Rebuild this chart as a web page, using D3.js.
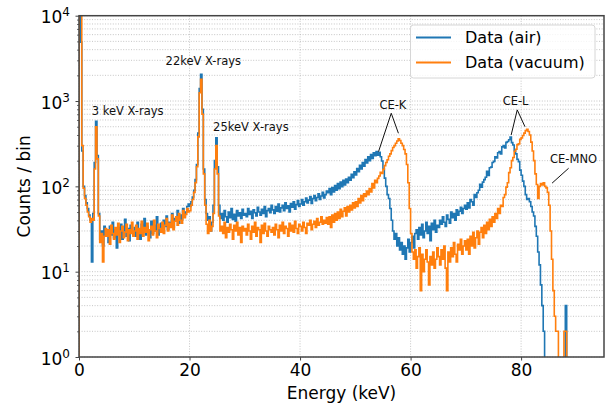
<!DOCTYPE html>
<html>
<head>
<meta charset="utf-8">
<script src="https://cdn.jsdelivr.net/npm/d3@7"></script>
<style>
  body { margin: 0; background: #fff; }
  svg { display: block; font-family: "DejaVu Sans", sans-serif; }
</style>
</head>
<body>
<svg width="605" height="404"></svg>
<script>
// histogram bins: 0.25 keV wide, starting at 0 keV
const binStart = 0;
const binWidth = 0.25;

const airCounts = [
    20000, 4900, 260, 100, 78, 64, 55, 46, 40, 13, 48, 190, 580, 230, 48, 24, 30, 20, 34, 26,
    29, 22, 34, 27, 38, 25, 31, 19, 33, 28, 36, 24, 30, 41, 26, 32, 23, 35, 29, 27,
    33, 26, 38, 30, 24, 36, 29, 42, 27, 34, 31, 25, 39, 28, 35, 30, 44, 27, 33, 37,
    29, 40, 34, 45, 31, 38, 36, 48, 33, 42, 39, 52, 37, 46, 41, 55, 44, 50, 58, 62,
    58, 66, 75, 90, 120, 180, 420, 1400, 2060, 800, 160, 70, 48, 40, 44, 30, 38, 60, 200, 370,
    170, 60, 42, 48, 40, 52, 44, 38, 50, 43, 55, 41, 47, 39, 52, 45, 49, 42, 54, 46,
    48, 44, 55, 47, 51, 42, 53, 49, 45, 57, 50, 46, 54, 48, 58, 44, 52, 55, 49, 60,
    53, 48, 58, 51, 62, 50, 56, 60, 52, 64, 55, 59, 50, 63, 57, 66, 54, 61, 68, 58,
    62, 70, 60, 66, 73, 64, 69, 76, 63, 72, 78, 68, 74, 82, 70, 77, 85, 73, 80, 88,
    84, 94, 80, 97, 86, 102, 90, 108, 94, 112, 99, 118, 104, 122, 110, 128, 118, 138, 126, 148,
    136, 162, 148, 176, 160, 190, 172, 206, 188, 222, 200, 236, 212, 248, 228, 256, 232, 250, 222, 198,
    160, 125, 100, 80, 72, 55, 40, 30, 24, 28, 20, 25, 18, 22, 16, 20, 14, 19, 24, 17,
    22, 26, 19, 28, 31, 24, 33, 27, 36, 25, 30, 38, 28, 34, 23, 37, 31, 40, 29, 35,
    33, 40, 36, 44, 38, 34, 46, 41, 37, 50, 43, 48, 40, 53, 46, 51, 57, 48, 55, 60,
    54, 64, 56, 70, 66, 60, 80, 74, 84, 90, 106, 98, 112, 120, 128, 150, 134, 165, 168, 190,
    196, 222, 215, 248, 256, 240, 290, 300, 282, 328, 336, 352, 378, 325, 305, 262, 240, 208, 195, 155,
    135, 115, 100, 80, 70, 72, 66, 58, 50, 45, 34, 26, 17, 12, 7, 4, 2, 0, 0, 0,
    0, 0, 0, 0, 0, 0, 0, 0, 0, 0, 0, 0, 4, 0, 0, 0, 0, 0, 0, 0,
    0, 0, 0, 0, 0, 0, 0, 0, 0, 0, 0, 0, 0, 0, 0, 0, 0, 0, 0, 0
];

const vacuumCounts = [
    20000, 14000, 300, 95, 72, 60, 50, 44, 38, 42, 40, 160, 500, 210, 45, 22, 28, 13, 26, 32,
    26, 31, 21, 35, 28, 24, 33, 27, 37, 22, 30, 34, 25, 29, 36, 23, 31, 28, 38, 26,
    30, 35, 24, 32, 28, 39, 26, 33, 29, 37, 23, 31, 34, 27, 40, 30, 25, 36, 32, 29,
    38, 28, 35, 42, 30, 37, 33, 46, 31, 39, 44, 35, 48, 40, 37, 52, 43, 47, 55, 50,
    52, 60, 70, 85, 110, 170, 380, 1250, 1800, 700, 140, 60, 36, 28, 40, 30, 34, 48, 160, 300,
    140, 45, 30, 34, 28, 38, 25, 33, 29, 36, 31, 24, 35, 30, 38, 27, 33, 22, 34, 30,
    32, 27, 36, 30, 24, 34, 29, 38, 26, 33, 31, 22, 35, 28, 37, 30, 26, 34, 31, 29,
    33, 27, 36, 31, 25, 35, 30, 38, 28, 34, 32, 26, 37, 30, 35, 29, 39, 32, 28, 36,
    34, 30, 38, 33, 28, 37, 35, 40, 31, 36, 39, 33, 42, 35, 38, 44, 36, 40, 37, 43,
    36, 44, 33, 46, 38, 48, 40, 50, 42, 54, 44, 51, 56, 45, 58, 50, 60, 53, 64, 56,
    66, 58, 72, 64, 78, 68, 82, 76, 88, 80, 94, 86, 108, 96, 118, 110, 124, 132, 146, 142,
    158, 175, 190, 205, 225, 240, 262, 285, 300, 320, 340, 360, 345, 320, 300, 270, 240, 180, 110, 55,
    28, 17, 14, 18, 11, 15, 19, 6, 16, 10, 14, 18, 13, 7, 15, 12, 17, 11, 14, 19,
    15, 12, 18, 14, 20, 11, 6, 17, 13, 19, 15, 22, 16, 13, 21, 18, 24, 16, 20, 23,
    18, 24, 16, 26, 20, 29, 19, 25, 30, 21, 29, 33, 25, 35, 28, 38, 31, 41, 34, 44,
    38, 48, 42, 55, 48, 60, 58, 74, 80, 98, 110, 145, 165, 200, 218, 258, 272, 308, 315, 355,
    370, 395, 420, 450, 465, 440, 400, 330, 260, 200, 140, 105, 72, 100, 108, 104, 110, 100, 96, 85,
    60, 30, 14, 6, 3, 2, 2, 0, 0, 0, 0, 2, 2, 0, 0, 0, 0, 0, 0, 0,
    0, 0, 0, 0, 0, 0, 0, 0, 0, 0, 0, 0, 0, 0, 0, 0, 0, 0, 0, 0
];

const seriesNames = ['Data (air)', 'Data (vacuum)'];
const seriesColors = ['#1f77b4', '#ff7f0e'];
const xTicks = [0, 20, 40, 60, 80];
const yDecades = [0, 1, 2, 3, 4];

// annotation text (centre, keV / counts) and the pointer lines (keV / counts)
const noteLabels = ['3 keV X-rays', '22keV X-rays', '25keV X-rays', 'CE-K', 'CE-L', 'CE-MNO'];
const noteX = [8.8, 22.5, 31.1, 56.8, 79.0, 89.5];
const noteY = [765, 2950, 500, 900, 1000, 210];
const pointers = [
    [56.5, 719, 54.2, 255],
    [56.5, 719, 57.8, 419],
    [79.3, 787, 78.2, 400],
    [79.3, 787, 80.7, 500],
    [88.6, 163, 85.6, 109]
];

init();

function init() {
    var svg = d3.select('svg');
    var left = 79, right = 604, top = 15.7, bottom = 357;

    var x = d3.scaleLinear().domain([0, 95]).range([left, right]);
    var y = d3.scaleLog().domain([1, 10000]).range([bottom, top]);

    var minorTicks = [];
    yDecades.slice(0, -1).forEach(p => {
        d3.range(2, 10).forEach(m => minorTicks.push(m * Math.pow(10, p)));
    });

    svg.append('defs').append('clipPath').attr('id', 'plot-clip')
        .append('rect')
        .attr('x', left).attr('y', top)
        .attr('width', right - left).attr('height', bottom - top);

    // grid
    var gGrid = svg.append('g')
        .attr('stroke', '#b8b8b8')
        .attr('stroke-width', 0.8)
        .attr('stroke-dasharray', '1,1.6');

    minorTicks.concat(yDecades.map(p => Math.pow(10, p))).forEach(v => {
        gGrid.append('line')
            .attr('x1', left).attr('x2', right)
            .attr('y1', y(v)).attr('y2', y(v));
    });
    xTicks.forEach(v => {
        gGrid.append('line')
            .attr('x1', x(v)).attr('x2', x(v))
            .attr('y1', top).attr('y2', bottom);
    });

    // histograms
    var line = d3.line()
        .curve(d3.curveStepAfter)
        .x(d => x(d[0]))
        .y(d => y(Math.max(d[1], 0.001)));

    var gData = svg.append('g').attr('clip-path', 'url(#plot-clip)');
    [airCounts, vacuumCounts].forEach((counts, idx) => {
        var pts = counts.map((c, i) => [binStart + i * binWidth, c]);
        pts.unshift([binStart, 0]);
        pts.push([binStart + counts.length * binWidth, counts[counts.length - 1]]);
        gData.append('path')
            .datum(pts)
            .attr('fill', 'none')
            .attr('stroke', seriesColors[idx])
            .attr('stroke-width', 1.6)
            .attr('stroke-linejoin', 'miter')
            .attr('d', line);
    });

    // axes
    var xAxis = d3.axisBottom(x).tickValues(xTicks).tickSize(3.5).tickPadding(3.5);
    var gx = svg.append('g').attr('transform', 'translate(0,' + bottom + ')').call(xAxis);
    gx.select('.domain').remove();
    gx.selectAll('.tick line').attr('stroke', '#444').attr('stroke-width', 1);
    gx.selectAll('.tick text')
        .attr('font-size', 17)
        .attr('font-family', 'DejaVu Sans')
        .attr('fill', '#000');

    var gy = svg.append('g').attr('transform', 'translate(' + left + ',0)')
        .call(d3.axisLeft(y).tickValues(yDecades.map(p => Math.pow(10, p))).tickSize(3.5).tickFormat(''));
    gy.select('.domain').remove();
    gy.selectAll('.tick line').attr('stroke', '#444').attr('stroke-width', 1);

    var gyMinor = svg.append('g').attr('transform', 'translate(' + left + ',0)')
        .call(d3.axisLeft(y).tickValues(minorTicks).tickSize(2).tickFormat(''));
    gyMinor.select('.domain').remove();
    gyMinor.selectAll('.tick line').attr('stroke', '#444').attr('stroke-width', 0.8);

    yDecades.forEach(p => {
        var t = svg.append('text')
            .attr('x', 70)
            .attr('y', y(Math.pow(10, p)) + 7.5)
            .attr('text-anchor', 'end')
            .attr('font-size', 17);
        t.append('tspan').text('10');
        t.append('tspan').attr('dy', -7).attr('font-size', 12).text(p);
    });

    svg.append('rect')
        .attr('x', left).attr('y', top)
        .attr('width', right - left).attr('height', bottom - top)
        .attr('fill', 'none')
        .attr('stroke', '#444')
        .attr('stroke-width', 1.5);

    svg.append('text')
        .attr('x', (left + right) / 2)
        .attr('y', 399)
        .attr('text-anchor', 'middle')
        .attr('font-size', 17)
        .text('Energy (keV)');

    svg.append('text')
        .attr('transform', 'translate(30,' + ((top + bottom) / 2) + ') rotate(-90)')
        .attr('text-anchor', 'middle')
        .attr('font-size', 17)
        .text('Counts / bin');

    // annotations
    noteLabels.forEach((txt, i) => {
        svg.append('text')
            .attr('x', x(noteX[i]))
            .attr('y', y(noteY[i]))
            .attr('dy', '0.35em')
            .attr('text-anchor', 'middle')
            .attr('font-size', 11.5)
            .attr('fill', '#111')
            .text(txt);
    });
    pointers.forEach(p => {
        svg.append('line')
            .attr('x1', x(p[0])).attr('y1', y(p[1]))
            .attr('x2', x(p[2])).attr('y2', y(p[3]))
            .attr('stroke', '#111')
            .attr('stroke-width', 1);
    });

    // legend
    var gLeg = svg.append('g');
    gLeg.append('rect')
        .attr('x', 410.5).attr('y', 25)
        .attr('width', 184.5).attr('height', 53)
        .attr('rx', 3)
        .attr('fill', '#fff')
        .attr('fill-opacity', 0.8)
        .attr('stroke', '#d6d6d6')
        .attr('stroke-width', 1);
    seriesNames.forEach((name, idx) => {
        var ly = 37.5 + idx * 25;
        gLeg.append('line')
            .attr('x1', 416).attr('x2', 451)
            .attr('y1', ly).attr('y2', ly)
            .attr('stroke', seriesColors[idx])
            .attr('stroke-width', 2);
        gLeg.append('text')
            .attr('x', 465)
            .attr('y', ly)
            .attr('dy', '0.35em')
            .attr('font-size', 16)
            .text(name);
    });
}
</script>
</body>
</html>
